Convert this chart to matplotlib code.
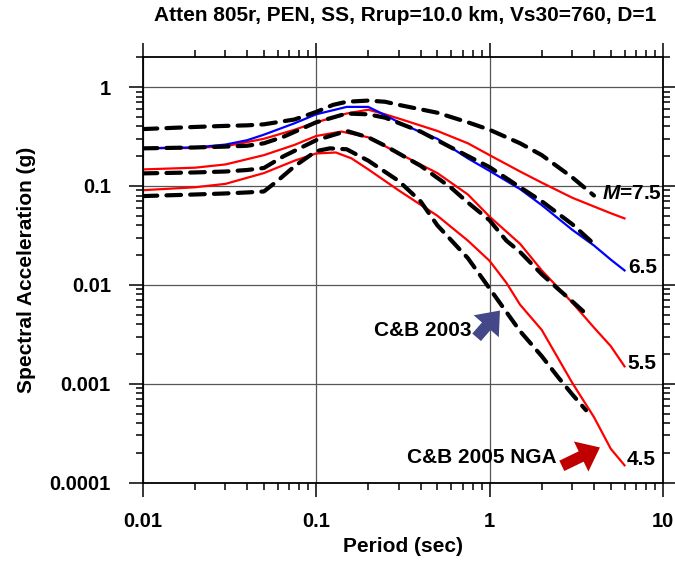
import matplotlib
matplotlib.use("Agg")
import matplotlib.pyplot as plt
from matplotlib.ticker import FixedLocator, FixedFormatter, LogLocator, NullFormatter

plt.rcParams['font.family'] = ['Liberation Sans', 'DejaVu Sans']
plt.rcParams['font.weight'] = 'bold'
plt.rcParams['mathtext.fontset'] = 'custom'
plt.rcParams['mathtext.it'] = 'Liberation Sans:bold:italic'
plt.rcParams['mathtext.rm'] = 'Liberation Sans:bold'

# C&B 2005 NGA curves
T_nga75 = [0.01, 0.02, 0.03, 0.05, 0.075, 0.1, 0.15, 0.2, 0.25, 0.3, 0.5, 0.75, 1.0, 1.5, 2.0, 3.0, 4.0, 5.0, 6.0]
sa_nga75 = [0.240, 0.242, 0.252, 0.30, 0.37, 0.44, 0.54, 0.59, 0.53, 0.48, 0.36, 0.27, 0.205, 0.14, 0.108, 0.076, 0.062, 0.053, 0.047]

T_nga65 = [0.01, 0.02, 0.03, 0.04, 0.05, 0.075, 0.1, 0.15, 0.2, 0.25, 0.3, 0.4, 0.5, 0.75, 1.0, 1.5, 2.0, 3.0, 4.0, 5.0, 6.0]
sa_nga65 = [0.241, 0.245, 0.262, 0.29, 0.33, 0.43, 0.53, 0.63, 0.63, 0.52, 0.44, 0.35, 0.30, 0.19, 0.142, 0.093, 0.064, 0.036, 0.025, 0.018, 0.014]

T_nga55 = [0.01, 0.02, 0.03, 0.05, 0.075, 0.1, 0.14, 0.2, 0.3, 0.5, 0.75, 1.0, 1.5, 2.0, 3.0, 4.0, 5.0, 6.0]
sa_nga55 = [0.147, 0.153, 0.165, 0.205, 0.26, 0.32, 0.355, 0.31, 0.213, 0.135, 0.082, 0.049, 0.026, 0.014, 0.0066, 0.0037, 0.0024, 0.0015]

T_nga45 = [0.01, 0.02, 0.03, 0.05, 0.075, 0.1, 0.13, 0.16, 0.2, 0.3, 0.5, 0.75, 1.0, 1.25, 1.5, 2.0, 3.0, 4.0, 5.0, 6.0]
sa_nga45 = [0.0906, 0.097, 0.105, 0.135, 0.18, 0.213, 0.218, 0.19, 0.147, 0.09, 0.05, 0.028, 0.0175, 0.0105, 0.0063, 0.0035, 0.00102, 0.00046, 0.00022, 0.00015]

# C&B 2003 curves
T_cb75 = [0.01, 0.02, 0.03, 0.04, 0.05, 0.075, 0.1, 0.125, 0.15, 0.2, 0.25, 0.3, 0.5, 0.75, 1.0, 1.5, 2.0, 3.0, 4.0]
sa_cb75 = [0.376, 0.395, 0.405, 0.41, 0.42, 0.47, 0.56, 0.66, 0.71, 0.73, 0.71, 0.66, 0.55, 0.44, 0.37, 0.27, 0.205, 0.122, 0.08]

T_cb65 = [0.01, 0.02, 0.03, 0.04, 0.05, 0.065, 0.1, 0.15, 0.2, 0.25, 0.4, 0.6, 1.0, 1.5, 2.0, 3.0, 3.9]
sa_cb65 = [0.24, 0.245, 0.25, 0.255, 0.27, 0.315, 0.44, 0.54, 0.53, 0.49, 0.355, 0.245, 0.155, 0.097, 0.07, 0.041, 0.027]

T_cb55 = [0.01, 0.02, 0.03, 0.04, 0.05, 0.065, 0.1, 0.15, 0.2, 0.25, 0.4, 0.6, 0.75, 1.0, 1.25, 1.5, 2.0, 2.5, 3.0, 3.6]
sa_cb55 = [0.134, 0.137, 0.14, 0.145, 0.152, 0.2, 0.29, 0.36, 0.31, 0.255, 0.16, 0.096, 0.068, 0.045, 0.028, 0.0215, 0.0128, 0.009, 0.0068, 0.0051]

T_cb45 = [0.01, 0.02, 0.03, 0.04, 0.05, 0.06, 0.075, 0.1, 0.12, 0.15, 0.2, 0.3, 0.4, 0.5, 0.75, 1.0, 1.5, 2.0, 2.5, 3.0, 3.6]
sa_cb45 = [0.079, 0.082, 0.084, 0.086, 0.088, 0.113, 0.158, 0.225, 0.24, 0.235, 0.18, 0.112, 0.07, 0.04, 0.0186, 0.0092, 0.0034, 0.0019, 0.00115, 0.00078, 0.00054]

x_ticks = [0.01, 0.1, 1, 10]
x_labels = ["0.01", "0.1", "1", "10"]
y_ticks = [0.0001, 0.001, 0.01, 0.1, 1]
y_labels = ["0.0001", "0.001", "0.01", "0.1", "1"]

fig = plt.figure(figsize=(6.75, 5.7), dpi=100)
ax = fig.add_axes([0.2114, 0.1532, 0.7708, 0.7463])
ax.set_xscale('log')
ax.set_yscale('log')
ax.set_xlim(0.01, 10)
ax.set_ylim(0.0001, 2)

# NGA curves (solid)
ax.plot(T_nga75, sa_nga75, color='#ff0000', lw=1.6)
ax.plot(T_nga55, sa_nga55, color='#ff0000', lw=1.6)
ax.plot(T_nga45, sa_nga45, color='#ff0000', lw=1.6)
ax.plot(T_nga65, sa_nga65, color='#0000ff', lw=1.6)

# 2003 curves (dashed)
for T, sa in [(T_cb75, sa_cb75), (T_cb65, sa_cb65), (T_cb55, sa_cb55), (T_cb45, sa_cb45)]:
    ax.plot(T, sa, color='black', lw=3, dashes=(3.5, 2.2), dash_capstyle='round')

ax.grid(True, which='major', color='#555555', lw=0.9)
ax.set_axisbelow(True)

ax.xaxis.set_major_locator(FixedLocator(x_ticks))
ax.xaxis.set_major_formatter(FixedFormatter(x_labels))
ax.yaxis.set_major_locator(FixedLocator(y_ticks))
ax.yaxis.set_major_formatter(FixedFormatter(y_labels))
ax.xaxis.set_minor_locator(LogLocator(base=10, subs=range(2, 10), numticks=20))
ax.yaxis.set_minor_locator(LogLocator(base=10, subs=range(2, 10), numticks=20))
ax.xaxis.set_minor_formatter(NullFormatter())
ax.yaxis.set_minor_formatter(NullFormatter())

ax.tick_params(which='both', direction='out', top=True, right=True, width=1.1, labelsize=14.5)
ax.tick_params(which='major', length=10)
ax.tick_params(which='minor', length=5)
ax.tick_params(axis='x', pad=11)
ax.tick_params(axis='y', pad=13)
for sp in ax.spines.values():
    sp.set_linewidth(1.3)

ax.set_xlabel("Period (sec)", fontsize=15, fontweight='bold')
ax.set_ylabel("Spectral Acceleration (g)", fontsize=15, fontweight='bold')
ax.xaxis.set_label_coords(0.5, -0.128)
ax.yaxis.set_label_coords(-0.205, 0.5)

fig.text(0.6, 0.972, "Atten 805r, PEN, SS, Rrup=10.0 km, Vs30=760, D=1",
         ha='center', va='center', fontsize=15, fontweight='bold')

# magnitude labels
ax.text(4.43, 0.084, "$M$=7.5", fontsize=15, fontweight='bold', ha='left', va='center')
ax.text(6.3, 0.015, "6.5", fontsize=15, fontweight='bold', ha='left', va='center')
ax.text(6.2, 0.0016, "5.5", fontsize=15, fontweight='bold', ha='left', va='center')
ax.text(6.2, 0.00017, "4.5", fontsize=15, fontweight='bold', ha='left', va='center')

ax.text(0.79, 0.00344, "C&B 2003", fontsize=15, fontweight='bold', ha='right', va='center')
ax.text(2.45, 0.000179, "C&B 2005 NGA", fontsize=15, fontweight='bold', ha='right', va='center')

ax.annotate('', xy=(1.148, 0.0055), xytext=(0.842, 0.00295),
            arrowprops=dict(arrowstyle='simple,head_width=1.6,head_length=1.0,tail_width=0.55',
                            fc='#454888', ec='none', shrinkA=0, shrinkB=0, mutation_scale=15))
ax.annotate('', xy=(4.33, 0.000227), xytext=(2.61, 0.000148),
            arrowprops=dict(arrowstyle='simple,head_width=1.6,head_length=1.0,tail_width=0.55',
                            fc='#c00000', ec='none', shrinkA=0, shrinkB=0, mutation_scale=15))

fig.savefig("out.png", dpi=100)
